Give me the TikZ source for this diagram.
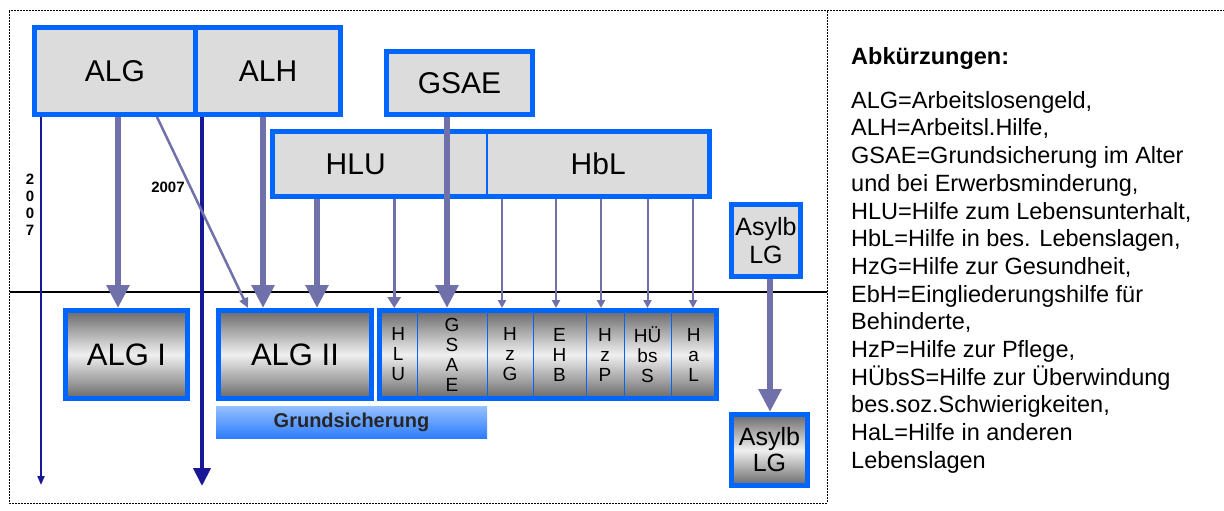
\documentclass[tikz,border=0pt]{standalone}
\usepackage{fontspec}
\setmainfont{Liberation Sans}
\usetikzlibrary{arrows.meta, positioning}

\definecolor{boxblue}{RGB}{0,102,255}
\definecolor{boxgray}{RGB}{220,220,220}
\definecolor{cellgray}{RGB}{105,105,105}
\definecolor{celllight}{RGB}{240,240,240}
\definecolor{arrowlav}{RGB}{112,112,170}
\definecolor{arrownavy}{RGB}{24,24,150}
\definecolor{barblue}{RGB}{45,125,255}
\definecolor{barlight}{RGB}{150,192,255}

\begin{document}
\begin{tikzpicture}[x=1pt, y=-1pt]
  \tikzset{
    topbox/.style={draw=boxblue, line width=5pt, fill=boxgray, inner sep=0pt,
      font=\fontsize{30}{36}\selectfont},
    plainbox/.style={fill=boxgray, inner sep=0pt, outer sep=0pt,
      minimum height=65pt, font=\fontsize{30}{36}\selectfont},
    framebox/.style={draw=boxblue, line width=5pt, inner sep=0pt},
    gradbox/.style={draw=boxblue, line width=5pt, inner sep=0pt, minimum height=88pt,
      top color=cellgray, bottom color=cellgray, middle color=celllight,
      font=\fontsize{31}{36}\selectfont},
    cell/.style={draw=boxblue, line width=1pt, inner sep=0pt, outer sep=0pt,
      minimum height=88pt, top color=cellgray, bottom color=cellgray,
      middle color=celllight, align=center, font=\fontsize{19}{20}\selectfont},
    bar/.style={inner sep=0pt, top color=barlight, bottom color=barblue,
      text=black!85, font=\bfseries\fontsize{20}{24}\selectfont},
    year/.style={inner sep=0pt, font=\bfseries\fontsize{15}{17}\selectfont},
    frame/.style={draw=black, line width=1pt, dash pattern=on 2pt off 1pt},
    fatarrow/.style={draw=arrowlav, line width=6pt, -{Triangle[width=22pt, length=23pt]}},
    midarrow/.style={draw=arrowlav, line width=3.5pt, -{Triangle[width=13pt, length=11pt]}},
    thinarrow/.style={draw=arrowlav, line width=2pt, -{Triangle[width=8pt, length=8pt]}},
    diagarrow/.style={draw=arrowlav, line width=2.5pt, -{Triangle[width=9pt, length=10pt]}},
    navythin/.style={draw=arrownavy, line width=2pt, -{Triangle[width=7pt, length=9pt]}},
    navyfat/.style={draw=arrownavy, line width=4pt, -{Triangle[width=17pt, length=18pt]}}
  }
  \useasboundingbox (0,0) rectangle (1224,511);
  \draw[frame] (9,11) rectangle (827,503);
  \draw[frame] (827,11) -- (1224,11);
  \draw[line width=2.5pt] (10,292) -- (827,292);

  % before 2005
  \node[topbox, minimum width=161pt, minimum height=87pt] (alg) at (115,71) {ALG};
  \node[topbox, minimum width=145pt, minimum height=87pt] (alh) at (268,71) {ALH};
  \node[topbox, minimum width=146pt, minimum height=63pt] (gsae) at (459.5,83) {GSAE};
  \node[plainbox, minimum width=214.5pt] (hlu) at (379.75,164) {HLU\hspace*{48pt}};
  \node[plainbox, minimum width=222.5pt, right=0pt of hlu] (hbl) {HbL};
  \node[framebox, minimum width=437pt, minimum height=65pt] (hilfe) at (491,164) {};
  \draw[boxblue, line width=1.2pt] (hlu.north east) -- (hlu.south east);
  \node[topbox, minimum width=69pt, minimum height=72pt, align=center,
    font=\fontsize{25}{28}\selectfont] (asyl) at (766,240.5) {Asylb\\LG};

  % since 2005
  \node[gradbox, minimum width=122pt] (algI) at (126.5,354.5) {ALG I};
  \node[gradbox, minimum width=153pt] (algII) at (295,354.5) {ALG II};
  \node[cell, minimum width=37.5pt] (hlucell) at (398.25,354.5) {H\\L\\U};
  \node[cell, minimum width=70pt, right=0pt of hlucell] (gsaecell) {G\\S\\A\\E};
  \node[cell, minimum width=46pt, right=0pt of gsaecell] (hzgcell) {H\\z\\G};
  \node[cell, minimum width=53pt, right=0pt of hzgcell] (ehbcell) {E\\H\\B};
  \node[cell, minimum width=38pt, right=0pt of ehbcell] (hzpcell) {H\\z\\P};
  \node[cell, minimum width=47pt, right=0pt of hzpcell] (huebscell) {HÜ\\bs\\S};
  \node[cell, minimum width=45.5pt, right=0pt of huebscell] (halcell) {H\\a\\L};
  \node[framebox, minimum width=337pt, minimum height=88pt] (hilfen) at (548,354.5) {};
  \node[gradbox, minimum width=76pt, minimum height=71pt, align=center,
    font=\fontsize{25}{26}\selectfont] (asylII) at (769.5,450) {Asylb\\LG};
  \node[bar, minimum width=271pt, minimum height=32pt] (grund) at (351.5,422) {Grundsicherung};

  % years
  \node[year, align=center] (yearv) at (30,205) {2\\0\\0\\7};
  \node[year] (yeard) at (168,187) {2007};

  % legend
  \node[anchor=base west, inner sep=0pt, font=\bfseries\fontsize{23.5}{27}\selectfont]
    (legtitle) at (851,65) {Abkürzungen:};
  \node[anchor=north west, align=left, inner sep=0pt, font=\fontsize{23.5}{27.7}\selectfont]
    (legend) at (851,91) {ALG=Arbeitslosengeld,\\
    ALH=Arbeitsl.Hilfe,\\
    GSAE=Grundsicherung im Alter\\
    und bei Erwerbsminderung,\\
    HLU=Hilfe zum Lebensunterhalt,\\
    HbL=Hilfe in bes. Lebenslagen,\\
    HzG=Hilfe zur Gesundheit,\\
    EbH=Eingliederungshilfe für\\
    Behinderte,\\
    HzP=Hilfe zur Pflege,\\
    HÜbsS=Hilfe zur Überwindung\\
    bes.soz.Schwierigkeiten,\\
    HaL=Hilfe in anderen\\
    Lebenslagen};

  % arrows
  \coordinate (navyAend) at (41,485);
  \coordinate (navyBend) at (202,486);
  \draw[navythin] (alg.south -| navyAend) -- (navyAend);
  \draw[navyfat] (alh.south -| navyBend) -- (navyBend);
  \draw[fatarrow] ([xshift=3pt]alg.south) -- ([xshift=3pt]alg.south |- algI.north);
  \draw[diagarrow] ([xshift=42pt]alg.south) -- ([xshift=32pt]algII.north west);
  \draw[fatarrow] ([xshift=-5pt]alh.south) -- ([xshift=-5pt]alh.south |- algII.north);
  \draw[fatarrow] ([xshift=-62.75pt]hlu.center |- hilfe.south)
    -- ([xshift=-62.75pt]hlu.center |- algII.north);
  \draw[midarrow] ([xshift=-4pt]hlucell.center |- hilfe.south)
    -- ([xshift=-4pt]hlucell.center |- hilfen.north);
  \draw[fatarrow] ([xshift=-12.5pt]gsae.south) -- ([xshift=-12.5pt]gsae.south |- hilfen.north);
  \foreach \c/\s in {hzgcell/-8, ehbcell/-3.5, hzpcell/-4, huebscell/0, halcell/-0.75}
    \draw[thinarrow] ([xshift=\s pt]\c.center |- hilfe.south)
      -- ([xshift=\s pt]\c.center |- hilfen.north);
  \draw[fatarrow] ([xshift=4pt]asyl.south) -- ([xshift=4pt]asyl.south |- asylII.north);
\end{tikzpicture}
\end{document}
